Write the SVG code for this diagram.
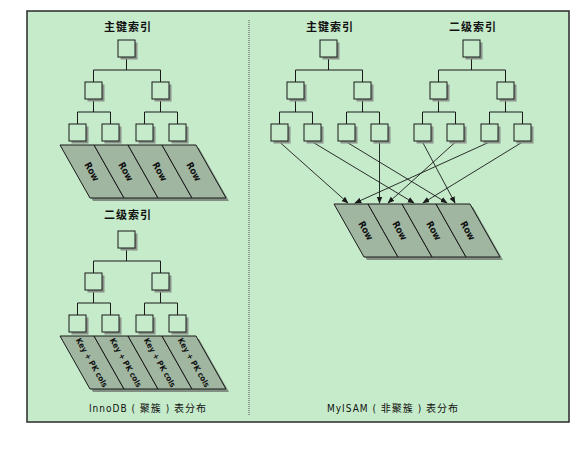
<svg xmlns="http://www.w3.org/2000/svg" xmlns:xlink="http://www.w3.org/1999/xlink" width="583" height="452" viewBox="0 0 583 452">
<defs>
<style>
.frame{fill:#c5ebca;stroke:#2a2a2a;stroke-width:1.5}
.div{stroke:#555;stroke-width:1;stroke-dasharray:1 1;fill:none}
.box{fill:#c5ebca;stroke:#1a1a1a;stroke-width:1}
.bsh{fill:#8a948a}
.ln{stroke:#1a1a1a;stroke-width:1;fill:none}
.row{fill:#a0b6a1;stroke:#1a1a1a;stroke-width:1}
.rsh{fill:#6e786e;opacity:0.8}
.ttl{font-family:"Noto Sans CJK SC","DejaVu Sans",sans-serif;font-weight:bold;font-size:11px;fill:#111;text-anchor:middle;letter-spacing:1px}
.cap{font-family:"DejaVu Sans Condensed","Liberation Sans","Noto Sans CJK SC",sans-serif;font-size:10px;fill:#111;text-anchor:middle;letter-spacing:1px}
.rt{font-family:"DejaVu Sans Condensed","Liberation Sans",sans-serif;font-weight:bold;font-size:9.5px;fill:#111;text-anchor:middle}
.kt{font-family:"DejaVu Sans Condensed","Liberation Sans",sans-serif;font-weight:bold;font-size:8px;fill:#111;text-anchor:middle}
.arr{stroke:#1a1a1a;stroke-width:0.9;fill:none;marker-end:url(#ah)}
</style>
<marker id="ah" viewBox="0 0 10 10" refX="9" refY="5" markerWidth="7" markerHeight="7" orient="auto" markerUnits="userSpaceOnUse">
<path d="M0,1 L10,5 L0,9 z" fill="#1a1a1a"/>
</marker>
<g id="bx">
<rect class="bsh" x="2.5" y="2.5" width="17" height="17"/>
<rect class="box" x="0" y="0" width="17" height="17"/>
</g>
</defs>

<rect class="frame" x="27" y="11" width="542" height="411"/>
<line class="div" x1="249" y1="20" x2="249" y2="416"/>

<g id="labels">
<text class="ttl" x="128" y="31">主键索引</text>
<text class="ttl" x="128" y="219">二级索引</text>
<text class="ttl" x="330" y="31">主键索引</text>
<text class="ttl" x="473" y="31">二级索引</text>
<text class="cap" x="148" y="412">InnoDB ( 聚簇 ) 表分布</text>
<text class="cap" x="393" y="412">MyISAM ( 非聚簇 ) 表分布</text>
</g>

<g id="connectors">
<path class="ln" d="M126.5,57V70 M93.5,70H160.5 M93.5,70V82 M160.5,70V82 M93.5,99V112 M160.5,99V112 M77.5,112H110.5 M77.5,112V124 M110.5,112V124 M144.5,112H177.5 M144.5,112V124 M177.5,112V124"/>
<path class="ln" d="M126.5,248V261 M93.5,261H160.5 M93.5,261V273 M160.5,261V273 M93.5,290V303 M160.5,290V303 M77.5,303H110.5 M77.5,303V315 M110.5,303V315 M144.5,303H177.5 M144.5,303V315 M177.5,303V315"/>
<path class="ln" d="M328.5,57V70 M295.5,70H362.5 M295.5,70V82 M362.5,70V82 M295.5,99V112 M362.5,99V112 M279.5,112H312.5 M279.5,112V124 M312.5,112V124 M346.5,112H379.5 M346.5,112V124 M379.5,112V124"/>
<path class="ln" d="M471.5,57V70 M438.5,70H505.5 M438.5,70V82 M505.5,70V82 M438.5,99V112 M505.5,99V112 M422.5,112H455.5 M422.5,112V124 M455.5,112V124 M489.5,112H522.5 M489.5,112V124 M522.5,112V124"/>
<line class="arr" x1="279.5" y1="142" x2="348" y2="203"/>
<line class="arr" x1="312.5" y1="142" x2="414" y2="203"/>
<line class="arr" x1="346.5" y1="142" x2="447" y2="203"/>
<line class="arr" x1="379.5" y1="142" x2="379.5" y2="203"/>
<line class="arr" x1="422.5" y1="142" x2="455" y2="203"/>
<line class="arr" x1="455.5" y1="142" x2="388" y2="203"/>
<line class="arr" x1="489.5" y1="142" x2="355" y2="203"/>
<line class="arr" x1="522.5" y1="142" x2="423" y2="203"/>
</g>

<g id="i-p-root"><use xlink:href="#bx" x="118" y="40"/></g>
<g id="i-p-n1"><use xlink:href="#bx" x="85" y="82"/></g>
<g id="i-p-n2"><use xlink:href="#bx" x="152" y="82"/></g>
<g id="i-p-l1"><use xlink:href="#bx" x="69" y="124"/></g>
<g id="i-p-l2"><use xlink:href="#bx" x="102" y="124"/></g>
<g id="i-p-l3"><use xlink:href="#bx" x="136" y="124"/></g>
<g id="i-p-l4"><use xlink:href="#bx" x="169" y="124"/></g>

<g id="i-rows">
<polygon class="rsh" points="63,148 199,148 229,201 93,201"/>
<polygon class="row" points="60,145 94,145 124,198 90,198"/>
<polygon class="row" points="94,145 128,145 158,198 124,198"/>
<polygon class="row" points="128,145 162,145 192,198 158,198"/>
<polygon class="row" points="162,145 196,145 226,198 192,198"/>
<text class="rt" transform="translate(92,171.5) rotate(60)" dy="3.5">Row</text>
<text class="rt" transform="translate(126,171.5) rotate(60)" dy="3.5">Row</text>
<text class="rt" transform="translate(160,171.5) rotate(60)" dy="3.5">Row</text>
<text class="rt" transform="translate(194,171.5) rotate(60)" dy="3.5">Row</text>
</g>

<g id="i-s-root"><use xlink:href="#bx" x="118" y="231"/></g>
<g id="i-s-n1"><use xlink:href="#bx" x="85" y="273"/></g>
<g id="i-s-n2"><use xlink:href="#bx" x="152" y="273"/></g>
<g id="i-s-l1"><use xlink:href="#bx" x="69" y="315"/></g>
<g id="i-s-l2"><use xlink:href="#bx" x="102" y="315"/></g>
<g id="i-s-l3"><use xlink:href="#bx" x="136" y="315"/></g>
<g id="i-s-l4"><use xlink:href="#bx" x="169" y="315"/></g>

<g id="i-keys">
<polygon class="rsh" points="63,339 199,339 229,392 93,392"/>
<polygon class="row" points="60,336 94,336 124,389 90,389"/>
<polygon class="row" points="94,336 128,336 158,389 124,389"/>
<polygon class="row" points="128,336 162,336 192,389 158,389"/>
<polygon class="row" points="162,336 196,336 226,389 192,389"/>
<text class="kt" transform="translate(92,362.5) rotate(60)" dy="3">Key + PK cols</text>
<text class="kt" transform="translate(126,362.5) rotate(60)" dy="3">Key + PK cols</text>
<text class="kt" transform="translate(160,362.5) rotate(60)" dy="3">Key + PK cols</text>
<text class="kt" transform="translate(194,362.5) rotate(60)" dy="3">Key + PK cols</text>
</g>

<g id="m-p-root"><use xlink:href="#bx" x="320" y="40"/></g>
<g id="m-p-n1"><use xlink:href="#bx" x="287" y="82"/></g>
<g id="m-p-n2"><use xlink:href="#bx" x="354" y="82"/></g>
<g id="m-p-l1"><use xlink:href="#bx" x="271" y="124"/></g>
<g id="m-p-l2"><use xlink:href="#bx" x="304" y="124"/></g>
<g id="m-p-l3"><use xlink:href="#bx" x="338" y="124"/></g>
<g id="m-p-l4"><use xlink:href="#bx" x="371" y="124"/></g>

<g id="m-s-root"><use xlink:href="#bx" x="463" y="40"/></g>
<g id="m-s-n1"><use xlink:href="#bx" x="430" y="82"/></g>
<g id="m-s-n2"><use xlink:href="#bx" x="497" y="82"/></g>
<g id="m-s-l1"><use xlink:href="#bx" x="414" y="124"/></g>
<g id="m-s-l2"><use xlink:href="#bx" x="447" y="124"/></g>
<g id="m-s-l3"><use xlink:href="#bx" x="481" y="124"/></g>
<g id="m-s-l4"><use xlink:href="#bx" x="514" y="124"/></g>

<g id="m-rows">
<polygon class="rsh" points="337,207 473,207 503,260 367,260"/>
<polygon class="row" points="334,204 368,204 398,257 364,257"/>
<polygon class="row" points="368,204 402,204 432,257 398,257"/>
<polygon class="row" points="402,204 436,204 466,257 432,257"/>
<polygon class="row" points="436,204 470,204 500,257 466,257"/>
<text class="rt" transform="translate(366,230.5) rotate(60)" dy="3.5">Row</text>
<text class="rt" transform="translate(400,230.5) rotate(60)" dy="3.5">Row</text>
<text class="rt" transform="translate(434,230.5) rotate(60)" dy="3.5">Row</text>
<text class="rt" transform="translate(468,230.5) rotate(60)" dy="3.5">Row</text>
</g>
</svg>
